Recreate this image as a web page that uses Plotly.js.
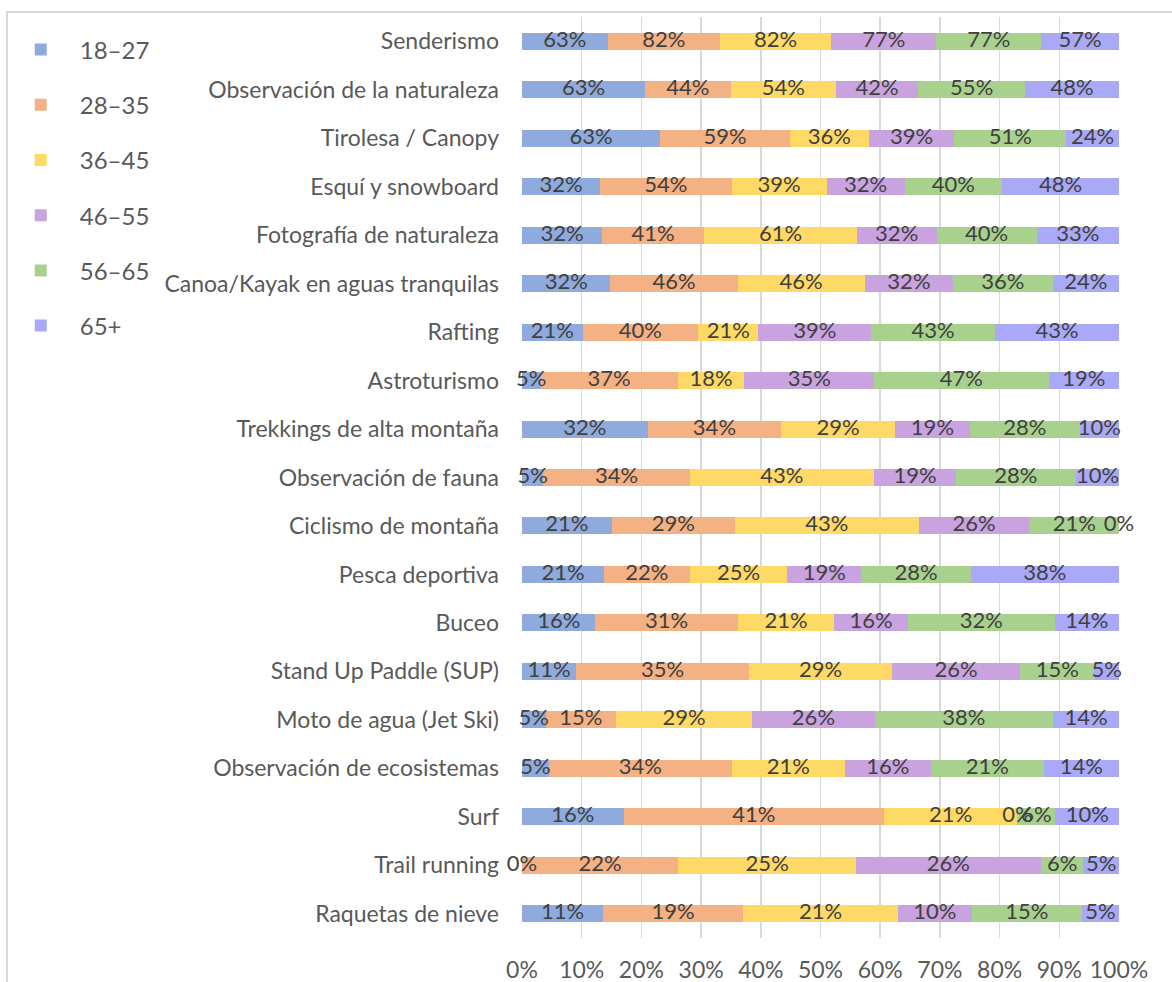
<!DOCTYPE html>
<html>
<head>
<meta charset="utf-8">
<script src="https://cdn.plot.ly/plotly-3.0.1.min.js"></script>
<style>
  html, body { margin: 0; padding: 0; background: #ffffff; }
  #chart { width: 1172px; height: 982px; }
</style>
</head>
<body>
<div id="chart"></div>
<script>
// Activities, listed top to bottom
const activities = [
  "Senderismo",
  "Observación de la naturaleza",
  "Tirolesa / Canopy",
  "Esquí y snowboard",
  "Fotografía de naturaleza",
  "Canoa/Kayak en aguas tranquilas",
  "Rafting",
  "Astroturismo",
  "Trekkings de alta montaña",
  "Observación de fauna",
  "Ciclismo de montaña",
  "Pesca deportiva",
  "Buceo",
  "Stand Up Paddle (SUP)",
  "Moto de agua (Jet Ski)",
  "Observación de ecosistemas",
  "Surf",
  "Trail running",
  "Raquetas de nieve"
];

// Age groups (series names)
const ageGroups = ["18–27", "28–35", "36–45", "46–55", "56–65", "65+"];

// Share of each age group interested in each activity (%)
const age18_27 = [63, 63, 63, 32, 32, 32, 21, 5, 32, 5, 21, 21, 16, 11, 5, 5, 16, 0, 11];
const age28_35 = [82, 44, 59, 54, 41, 46, 40, 37, 34, 34, 29, 22, 31, 35, 15, 34, 41, 22, 19];
const age36_45 = [82, 54, 36, 39, 61, 46, 21, 18, 29, 43, 43, 25, 21, 29, 29, 21, 21, 25, 21];
const age46_55 = [77, 42, 39, 32, 32, 32, 39, 35, 19, 19, 26, 19, 16, 26, 26, 16, 0, 26, 10];
const age56_65 = [77, 55, 51, 40, 40, 36, 43, 47, 28, 28, 21, 28, 32, 15, 38, 21, 6, 6, 15];
const age65plus = [57, 48, 24, 48, 33, 24, 43, 19, 10, 10, 0, 38, 14, 5, 14, 14, 10, 5, 5];

const seriesValues = [age18_27, age28_35, age36_45, age46_55, age56_65, age65plus];
const seriesColors = ["#8FAADC", "#F4B183", "#FFD966", "#C9A3E0", "#A9D18E", "#A9A9F8"];

const FONT = "Lato, 'Open Sans', sans-serif";
const LABEL_COLOR = "#404040";
const AXIS_COLOR = "#595959";
const GRID_COLOR = "#D9D9D9";

// Row totals, used to place each value label at the middle of its segment
const rowTotals = activities.map((_, i) =>
  seriesValues.reduce((s, arr) => s + arr[i], 0));

const traces = [];

// Stacked bars, normalised to 100% per activity
seriesValues.forEach((vals, k) => {
  traces.push({
    type: "bar",
    orientation: "h",
    name: ageGroups[k],
    legendgroup: ageGroups[k],
    y: activities,
    x: vals,
    marker: { color: seriesColors[k], line: { width: 0 } },
    hoverinfo: "skip"
  });
});

// Value labels centred on each segment (on the same normalised scale)
const cumulative = activities.map(() => 0);
seriesValues.forEach((vals, k) => {
  const xs = vals.map((v, i) => {
    const mid = (cumulative[i] + v / 2) / rowTotals[i] * 100;
    cumulative[i] += v;
    return mid;
  });
  traces.push({
    type: "scatter",
    mode: "text",
    x: xs,
    y: activities,
    text: vals.map(v => v + "%"),
    textposition: "middle center",
    textfont: { family: FONT, size: 22, color: LABEL_COLOR },
    cliponaxis: false,
    showlegend: false,
    hoverinfo: "skip"
  });
});

const W = 1172, H = 982;
const margin = { l: 522, r: 53, t: 17, b: 44 };
const plotW = W - margin.l - margin.r;
const plotH = H - margin.t - margin.b;
const px2x = px => (px - margin.l) / plotW;
const px2y = py => (H - margin.b - py) / plotH;

const layout = {
  width: W,
  height: H,
  margin: margin,
  paper_bgcolor: "#ffffff",
  plot_bgcolor: "#ffffff",
  font: { family: FONT, size: 23, color: AXIS_COLOR },
  barmode: "stack",
  barnorm: "percent",
  bargap: 0.65,
  showlegend: true,
  legend: {
    xref: "container",
    yref: "container",
    x: 0.0015,
    xanchor: "left",
    y: 0.972,
    yanchor: "top",
    traceorder: "grouped",
    tracegroupgap: 21,
    itemwidth: 68,
    font: { family: FONT, size: 24, color: AXIS_COLOR },
    bgcolor: "rgba(0,0,0,0)"
  },
  xaxis: {
    range: [0, 100],
    tickvals: [0, 10, 20, 30, 40, 50, 60, 70, 80, 90, 100],
    ticktext: ["0%", "10%", "20%", "30%", "40%", "50%", "60%", "70%", "80%", "90%", "100%"],
    showgrid: true,
    gridcolor: GRID_COLOR,
    gridwidth: 1.5,
    zeroline: false,
    showline: false,
    ticks: "",
    ticklabelstandoff: 16,
    tickfont: { family: FONT, size: 23, color: AXIS_COLOR },
    fixedrange: true
  },
  yaxis: {
    type: "category",
    categoryorder: "array",
    categoryarray: activities,
    range: [activities.length - 0.5, -0.5],
    autorange: false,
    showgrid: false,
    zeroline: false,
    showline: false,
    ticks: "",
    ticklabelstandoff: 22,
    tickfont: { family: FONT, size: 23, color: AXIS_COLOR },
    fixedrange: true
  },
  shapes: [
    {
      type: "rect",
      xref: "paper",
      yref: "paper",
      x0: px2x(7),
      x1: px2x(W + 10),
      y0: px2y(H + 10),
      y1: px2y(12),
      line: { color: GRID_COLOR, width: 2 },
      fillcolor: "rgba(0,0,0,0)",
      layer: "below"
    }
  ]
};

Plotly.newPlot("chart", traces, layout, { displayModeBar: false, staticPlot: true });
</script>
</body>
</html>
